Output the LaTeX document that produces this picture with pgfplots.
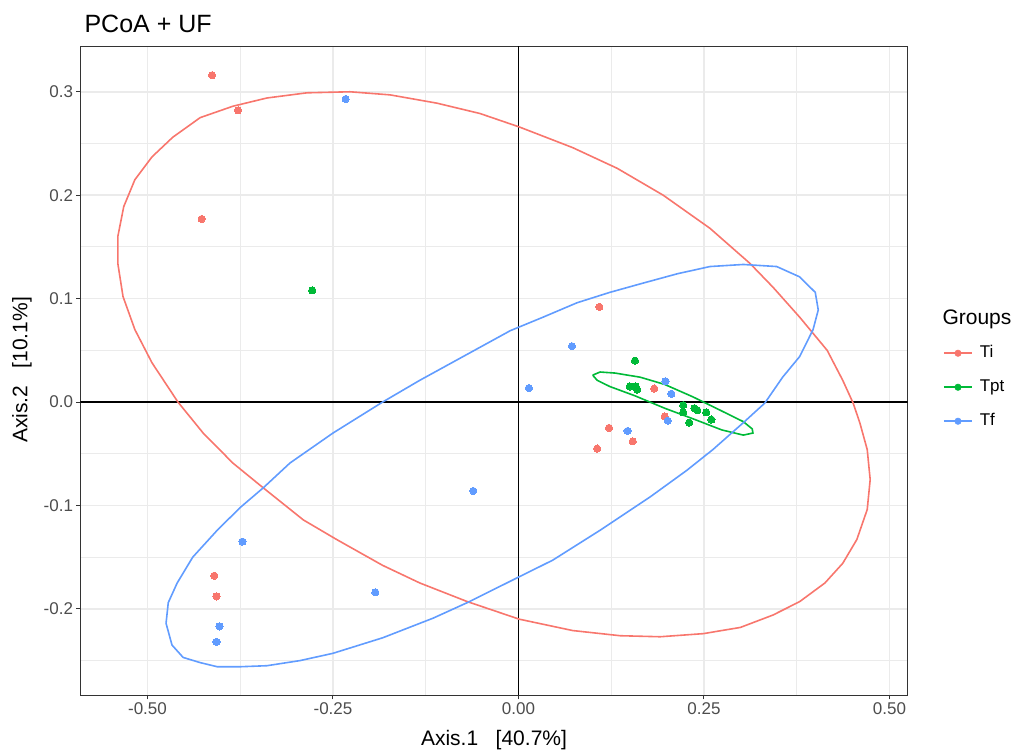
\documentclass[border=0pt]{standalone}
\usepackage{pgfplots}
\pgfplotsset{compat=1.18}
\usepackage{fontspec}
\setmainfont{Liberation Sans}
\definecolor{cTi}{HTML}{F8766D}
\definecolor{cTpt}{HTML}{00BA38}
\definecolor{cTf}{HTML}{619CFF}
\definecolor{gridc}{HTML}{EBEBEB}
\definecolor{framec}{HTML}{333333}
\definecolor{ticklab}{HTML}{4D4D4D}

\begin{document}
\begin{tikzpicture}[x=1pt,y=1pt]
\useasboundingbox (0,0) rectangle (1013,751);
\begin{axis}[
  at={(80.5pt,55.5pt)}, anchor=south west,
  scale only axis, width=827pt, height=649pt,
  xmin=-0.5903, xmax=0.5243, ymin=-0.2838, ymax=0.3438,
  axis line style={color=framec, line width=1pt},
  tick pos=left, tick align=outside,
  major tick length=4pt, minor tick length=0pt,
  every tick/.style={color=framec, line width=1pt},
  xtick={-0.5,-0.25,0,0.25,0.5},
  xticklabels={-0.50,-0.25,0.00,0.25,0.50},
  minor xtick={-0.375,-0.125,0.125,0.375},
  ytick={-0.2,-0.1,0,0.1,0.2,0.3},
  yticklabels={-0.2,-0.1,0.0,0.1,0.2,0.3},
  minor ytick={-0.25,-0.15,-0.05,0.05,0.15,0.25},
  grid=both,
  major grid style={color=gridc, line width=1.7pt},
  minor grid style={color=gridc, line width=0.9pt},
  ticklabel style={font=\fontsize{17}{20}\selectfont, text=ticklab},
  legend style={at={(1.0429,0.5400)}, anchor=north west, draw=none, fill=none,
    font=\fontsize{17}{20}\selectfont, inner sep=0pt, row sep=18pt,
    nodes={inner sep=0pt, text height=12pt, text depth=4pt},
    /tikz/every odd column/.append style={column sep=7pt}},
  legend cell align=left,
]
% zero lines
\addplot[black, line width=1.9pt, forget plot] coordinates {(-0.5903,0) (0.5243,0)};
\addplot[black, line width=1.9pt, forget plot] coordinates {(0,-0.2838) (0,0.3438)};

% points
\addplot[only marks, mark=*, mark size=3.6pt, color=cTi, mark options={fill=cTi, draw=cTi, line width=0pt},
  legend image code/.code={\draw[cTi, line width=1.6pt] (0pt,0pt) -- (28pt,0pt); \fill[cTi] (14pt,0pt) circle (3.3pt);}]
coordinates {
(0.109,0.092) (0.183,0.013) (0.197,-0.014) (0.122,-0.025) (0.154,-0.038) (0.106,-0.045)
(-0.413,0.316) (-0.378,0.282) (-0.427,0.177) (-0.410,-0.168) (-0.407,-0.188)
};
\addlegendentry{Ti}
\addplot[only marks, mark=*, mark size=3.6pt, color=cTpt, mark options={fill=cTpt, draw=cTpt, line width=0pt},
  legend image code/.code={\draw[cTpt, line width=1.6pt] (0pt,0pt) -- (28pt,0pt); \fill[cTpt] (14pt,0pt) circle (3.3pt);}]
coordinates {
(0.157,0.040) (0.150,0.015) (0.158,0.015) (0.160,0.012) (0.222,-0.003) (0.222,-0.010)
(0.237,-0.006) (0.241,-0.008) (0.253,-0.010) (0.260,-0.017) (0.230,-0.020) (-0.278,0.108)
};
\addlegendentry{Tpt}
\addplot[only marks, mark=*, mark size=3.6pt, color=cTf, mark options={fill=cTf, draw=cTf, line width=0pt},
  legend image code/.code={\draw[cTf, line width=1.6pt] (0pt,0pt) -- (28pt,0pt); \fill[cTf] (14pt,0pt) circle (3.3pt);}]
coordinates {
(0.072,0.054) (0.198,0.020) (0.206,0.008) (0.201,-0.018) (0.147,-0.028) (0.014,0.0135)
(-0.061,-0.086) (-0.193,-0.184) (-0.233,0.293) (-0.372,-0.135) (-0.403,-0.217) (-0.407,-0.232)
};
\addlegendentry{Tf}

% ellipses
\addplot[cTi, line width=1.6pt, forget plot] coordinates {
(-0.285,0.299) (-0.227,0.300) (-0.173,0.297) (-0.110,0.289) (-0.052,0.279) (0.001,0.266)
(0.073,0.246) (0.133,0.226) (0.195,0.200) (0.258,0.168) (0.312,0.134) (0.343,0.111)
(0.379,0.082) (0.416,0.050) (0.437,0.021) (0.451,-0.001) (0.460,-0.020) (0.470,-0.046)
(0.474,-0.075) (0.470,-0.104) (0.456,-0.133) (0.437,-0.156) (0.413,-0.175) (0.379,-0.193)
(0.343,-0.206) (0.299,-0.218) (0.249,-0.224) (0.191,-0.227) (0.137,-0.226) (0.073,-0.221)
(0.001,-0.210) (-0.069,-0.193) (-0.133,-0.175) (-0.183,-0.158) (-0.245,-0.133) (-0.290,-0.114)
(-0.344,-0.083) (-0.385,-0.059) (-0.425,-0.030) (-0.459,0.000) (-0.494,0.038) (-0.517,0.070)
(-0.533,0.102) (-0.540,0.134) (-0.540,0.160) (-0.532,0.189) (-0.517,0.215) (-0.494,0.237)
(-0.466,0.256) (-0.429,0.275) (-0.385,0.286) (-0.339,0.294) (-0.285,0.299)
};
\addplot[cTpt, line width=1.6pt, forget plot] coordinates {
(0.100,0.026) (0.110,0.029) (0.130,0.028) (0.164,0.024) (0.197,0.017) (0.235,0.005)
(0.272,-0.008) (0.303,-0.019) (0.315,-0.026) (0.316,-0.030) (0.303,-0.032) (0.274,-0.027)
(0.238,-0.017) (0.197,-0.006) (0.157,0.006) (0.123,0.015) (0.106,0.021) (0.100,0.026)
};
\addplot[cTf, line width=1.6pt, forget plot] coordinates {
(0.303,0.133) (0.348,0.131) (0.379,0.121) (0.400,0.106) (0.404,0.089) (0.397,0.070)
(0.379,0.044) (0.356,0.024) (0.332,-0.001) (0.303,-0.020) (0.262,-0.046) (0.227,-0.066)
(0.177,-0.092) (0.110,-0.124) (0.046,-0.153) (0.001,-0.169) (-0.069,-0.194) (-0.115,-0.209)
(-0.183,-0.228) (-0.250,-0.243) (-0.294,-0.250) (-0.339,-0.255) (-0.375,-0.256) (-0.406,-0.256)
(-0.429,-0.252) (-0.452,-0.247) (-0.467,-0.235) (-0.475,-0.214) (-0.472,-0.194) (-0.460,-0.175)
(-0.439,-0.150) (-0.406,-0.124) (-0.375,-0.102) (-0.344,-0.083) (-0.308,-0.059) (-0.250,-0.030)
(-0.183,0.000) (-0.133,0.021) (-0.072,0.045) (-0.011,0.069) (0.033,0.082) (0.079,0.096)
(0.123,0.106) (0.168,0.115) (0.214,0.124) (0.258,0.131) (0.303,0.133)
};
\end{axis}
\node[anchor=base west, font=\fontsize{25}{30}\selectfont] at (81,718) {PCoA + UF};
\node[anchor=center, font=\fontsize{21}{25}\selectfont] at (494,11) {Axis.1\ \ \ [40.7\%]};
\node[anchor=center, rotate=90, font=\fontsize{21}{25}\selectfont] at (22,381) {Axis.2\ \ \ [10.1\%]};
\node[anchor=base west, font=\fontsize{21}{25}\selectfont] at (939,426) {Groups};
\end{tikzpicture}
\end{document}
